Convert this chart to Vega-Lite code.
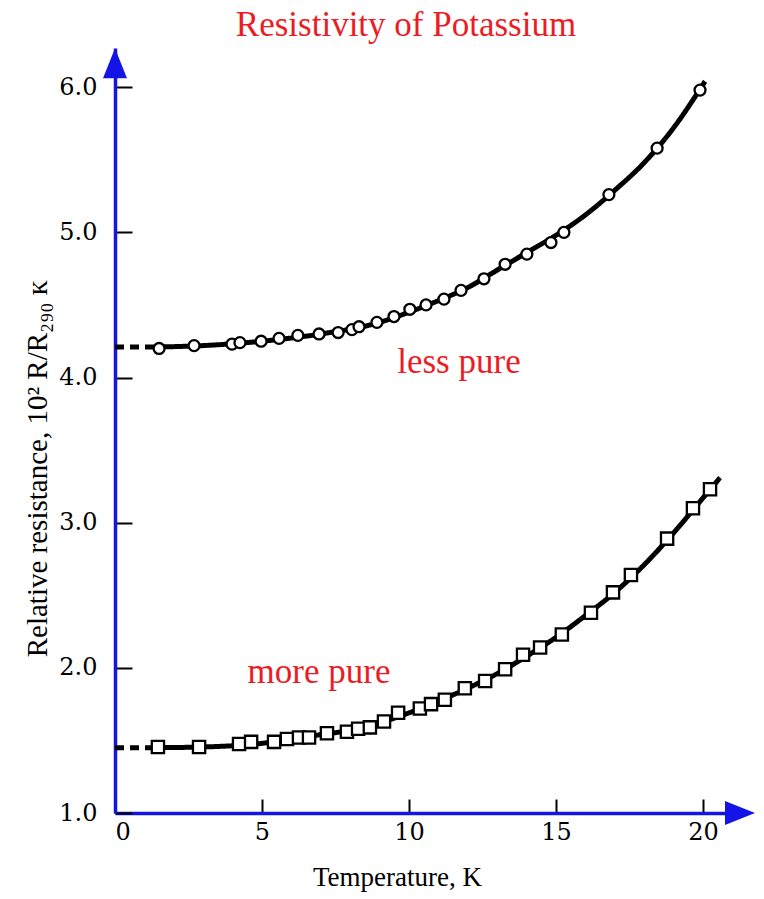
{
  "$schema": "https://vega.github.io/schema/vega-lite/v6.json",
  "width": 630,
  "height": 765,
  "autosize": {"type": "none"},
  "padding": {"left": 115, "top": 48, "right": 19, "bottom": 86},
  "background": "white",
  "config": {
    "view": {"stroke": null},
    "font": "Liberation Serif"
  },
  "title": {
    "text": "Resistivity of Potassium",
    "color": "#ec1c24",
    "font": "Liberation Serif",
    "fontSize": 35,
    "fontWeight": "normal",
    "anchor": "middle",
    "baseline": "alphabetic",
    "offset": 11,
    "dx": -24,
    "dy": 34
  },
  "datasets": {
    "curves": [
      {"T": 0, "R": 4.21, "curve": "less pure", "part": "dashed"},
      {"T": 1.4, "R": 4.21, "curve": "less pure", "part": "dashed"},
      {"T": 1.4, "R": 4.21, "curve": "less pure", "part": "solid"},
      {"T": 3, "R": 4.22, "curve": "less pure", "part": "solid"},
      {"T": 5, "R": 4.25, "curve": "less pure", "part": "solid"},
      {"T": 7, "R": 4.30, "curve": "less pure", "part": "solid"},
      {"T": 9, "R": 4.38, "curve": "less pure", "part": "solid"},
      {"T": 10, "R": 4.45, "curve": "less pure", "part": "solid"},
      {"T": 11, "R": 4.53, "curve": "less pure", "part": "solid"},
      {"T": 12, "R": 4.62, "curve": "less pure", "part": "solid"},
      {"T": 13, "R": 4.74, "curve": "less pure", "part": "solid"},
      {"T": 14, "R": 4.86, "curve": "less pure", "part": "solid"},
      {"T": 15, "R": 4.98, "curve": "less pure", "part": "solid"},
      {"T": 16, "R": 5.12, "curve": "less pure", "part": "solid"},
      {"T": 17, "R": 5.29, "curve": "less pure", "part": "solid"},
      {"T": 18, "R": 5.48, "curve": "less pure", "part": "solid"},
      {"T": 19, "R": 5.72, "curve": "less pure", "part": "solid"},
      {"T": 20.07, "R": 6.04, "curve": "less pure", "part": "solid"},
      {"T": 0, "R": 1.45, "curve": "more pure", "part": "dashed"},
      {"T": 1.4, "R": 1.45, "curve": "more pure", "part": "dashed"},
      {"T": 1.4, "R": 1.45, "curve": "more pure", "part": "solid"},
      {"T": 3, "R": 1.455, "curve": "more pure", "part": "solid"},
      {"T": 5, "R": 1.48, "curve": "more pure", "part": "solid"},
      {"T": 6, "R": 1.51, "curve": "more pure", "part": "solid"},
      {"T": 7, "R": 1.54, "curve": "more pure", "part": "solid"},
      {"T": 8, "R": 1.57, "curve": "more pure", "part": "solid"},
      {"T": 9, "R": 1.62, "curve": "more pure", "part": "solid"},
      {"T": 10, "R": 1.69, "curve": "more pure", "part": "solid"},
      {"T": 11, "R": 1.77, "curve": "more pure", "part": "solid"},
      {"T": 12, "R": 1.86, "curve": "more pure", "part": "solid"},
      {"T": 13, "R": 1.96, "curve": "more pure", "part": "solid"},
      {"T": 14, "R": 2.08, "curve": "more pure", "part": "solid"},
      {"T": 15, "R": 2.21, "curve": "more pure", "part": "solid"},
      {"T": 16, "R": 2.36, "curve": "more pure", "part": "solid"},
      {"T": 17, "R": 2.52, "curve": "more pure", "part": "solid"},
      {"T": 18, "R": 2.71, "curve": "more pure", "part": "solid"},
      {"T": 19, "R": 2.93, "curve": "more pure", "part": "solid"},
      {"T": 20, "R": 3.17, "curve": "more pure", "part": "solid"},
      {"T": 20.58, "R": 3.31, "curve": "more pure", "part": "solid"}
    ],
    "points": [
      {"T": 1.50, "R": 4.20, "sample": "less pure"},
      {"T": 2.69, "R": 4.22, "sample": "less pure"},
      {"T": 3.98, "R": 4.23, "sample": "less pure"},
      {"T": 4.25, "R": 4.24, "sample": "less pure"},
      {"T": 4.97, "R": 4.25, "sample": "less pure"},
      {"T": 5.58, "R": 4.27, "sample": "less pure"},
      {"T": 6.22, "R": 4.29, "sample": "less pure"},
      {"T": 6.94, "R": 4.30, "sample": "less pure"},
      {"T": 7.59, "R": 4.31, "sample": "less pure"},
      {"T": 8.06, "R": 4.33, "sample": "less pure"},
      {"T": 8.30, "R": 4.35, "sample": "less pure"},
      {"T": 8.91, "R": 4.38, "sample": "less pure"},
      {"T": 9.49, "R": 4.42, "sample": "less pure"},
      {"T": 10.03, "R": 4.47, "sample": "less pure"},
      {"T": 10.58, "R": 4.50, "sample": "less pure"},
      {"T": 11.19, "R": 4.54, "sample": "less pure"},
      {"T": 11.77, "R": 4.60, "sample": "less pure"},
      {"T": 12.55, "R": 4.68, "sample": "less pure"},
      {"T": 13.27, "R": 4.78, "sample": "less pure"},
      {"T": 14.01, "R": 4.85, "sample": "less pure"},
      {"T": 14.83, "R": 4.93, "sample": "less pure"},
      {"T": 15.27, "R": 5.00, "sample": "less pure"},
      {"T": 16.80, "R": 5.26, "sample": "less pure"},
      {"T": 18.44, "R": 5.58, "sample": "less pure"},
      {"T": 19.90, "R": 5.98, "sample": "less pure"},
      {"T": 1.46, "R": 1.455, "sample": "more pure"},
      {"T": 2.86, "R": 1.455, "sample": "more pure"},
      {"T": 4.22, "R": 1.475, "sample": "more pure"},
      {"T": 4.63, "R": 1.49, "sample": "more pure"},
      {"T": 5.41, "R": 1.49, "sample": "more pure"},
      {"T": 5.85, "R": 1.51, "sample": "more pure"},
      {"T": 6.26, "R": 1.52, "sample": "more pure"},
      {"T": 6.60, "R": 1.52, "sample": "more pure"},
      {"T": 7.21, "R": 1.55, "sample": "more pure"},
      {"T": 7.89, "R": 1.56, "sample": "more pure"},
      {"T": 8.27, "R": 1.58, "sample": "more pure"},
      {"T": 8.67, "R": 1.59, "sample": "more pure"},
      {"T": 9.15, "R": 1.63, "sample": "more pure"},
      {"T": 9.63, "R": 1.69, "sample": "more pure"},
      {"T": 10.37, "R": 1.72, "sample": "more pure"},
      {"T": 10.75, "R": 1.75, "sample": "more pure"},
      {"T": 11.22, "R": 1.78, "sample": "more pure"},
      {"T": 11.90, "R": 1.86, "sample": "more pure"},
      {"T": 12.59, "R": 1.91, "sample": "more pure"},
      {"T": 13.27, "R": 1.99, "sample": "more pure"},
      {"T": 13.88, "R": 2.09, "sample": "more pure"},
      {"T": 14.46, "R": 2.14, "sample": "more pure"},
      {"T": 15.20, "R": 2.23, "sample": "more pure"},
      {"T": 16.19, "R": 2.38, "sample": "more pure"},
      {"T": 16.94, "R": 2.52, "sample": "more pure"},
      {"T": 17.55, "R": 2.64, "sample": "more pure"},
      {"T": 18.78, "R": 2.89, "sample": "more pure"},
      {"T": 19.66, "R": 3.10, "sample": "more pure"},
      {"T": 20.24, "R": 3.23, "sample": "more pure"}
    ],
    "labels": [
      {"T": 11.7, "R": 4.11, "text": "less pure"},
      {"T": 6.94, "R": 1.97, "text": "more pure"}
    ],
    "arrows": [
      {"T": 0, "R": 6.165, "axis": "y"},
      {"T": 21.26, "R": 1.0, "axis": "x"}
    ]
  },
  "encoding": {
    "x": {
      "field": "T",
      "type": "quantitative",
      "scale": {"domain": [0, 21.43], "nice": false, "zero": false},
      "axis": {
        "values": [0, 5, 10, 15, 20],
        "grid": false,
        "title": "Temperature,  K",
        "titleFont": "Liberation Serif",
        "titleFontSize": 27,
        "titleFontWeight": "normal",
        "titleColor": "black",
        "titleX": 282,
        "titleY": 72,
        "titleBaseline": "alphabetic",
        "titleAlign": "center",
        "domainColor": "#1414e6",
        "domainWidth": 3.5,
        "tickColor": "black",
        "tickWidth": 2,
        "tickSize": -14,
        "labelPadding": 21,
        "labelFont": "DejaVu Serif",
        "labelFontSize": 24,
        "labelColor": "black",
        "labelBaseline": "top"
      }
    },
    "y": {
      "field": "R",
      "type": "quantitative",
      "scale": {"domain": [1, 6.27], "nice": false, "zero": false},
      "axis": {
        "values": [1, 2, 3, 4, 5, 6],
        "format": ".1f",
        "grid": false,
        "title": "Relative resistance,  10² R/R₂₉₀ ᴋ",
        "titleFont": "Liberation Serif",
        "titleFontSize": 29,
        "titleFontWeight": "normal",
        "titleColor": "black",
        "titleX": -69,
        "titleY": 420,
        "titleBaseline": "alphabetic",
        "titleAlign": "center",
        "titleAngle": -90,
        "domainColor": "#1414e6",
        "domainWidth": 3.5,
        "tickColor": "black",
        "tickWidth": 2,
        "tickSize": -17,
        "labelPadding": 35,
        "labelFont": "DejaVu Serif",
        "labelFontSize": 24,
        "labelColor": "black"
      }
    }
  },
  "layer": [
    {
      "data": {"name": "curves"},
      "mark": {"type": "line", "interpolate": "monotone", "color": "black", "strokeWidth": 5, "strokeCap": "butt"},
      "encoding": {
        "detail": {"field": "curve"},
        "strokeDash": {
          "field": "part",
          "type": "nominal",
          "scale": {"domain": ["solid", "dashed"], "range": [[1, 0], [9, 6]]},
          "legend": null
        }
      }
    },
    {
      "data": {"name": "points"},
      "transform": [{"filter": "datum.sample === 'less pure'"}],
      "mark": {"type": "point", "shape": "circle", "size": 120, "filled": false, "fill": "white", "fillOpacity": 1, "stroke": "black", "strokeWidth": 2.3, "opacity": 1}
    },
    {
      "data": {"name": "points"},
      "transform": [{"filter": "datum.sample === 'more pure'"}],
      "mark": {"type": "point", "shape": "square", "size": 150, "filled": false, "fill": "white", "fillOpacity": 1, "stroke": "black", "strokeWidth": 2.3, "opacity": 1}
    },
    {
      "data": {"name": "labels"},
      "mark": {"type": "text", "font": "Liberation Serif", "fontSize": 35, "color": "#ec1c24", "align": "center", "baseline": "middle"},
      "encoding": {"text": {"field": "text"}}
    },
    {
      "data": {"name": "arrows"},
      "transform": [{"filter": "datum.axis === 'y'"}],
      "mark": {"type": "point", "shape": "M0,-1L0.8,1L-0.8,1Z", "filled": true, "color": "#1414e6", "opacity": 1, "size": 900}
    },
    {
      "data": {"name": "arrows"},
      "transform": [{"filter": "datum.axis === 'x'"}],
      "mark": {"type": "point", "shape": "M1,0L-1,-0.8L-1,0.8Z", "filled": true, "color": "#1414e6", "opacity": 1, "size": 900}
    }
  ]
}
